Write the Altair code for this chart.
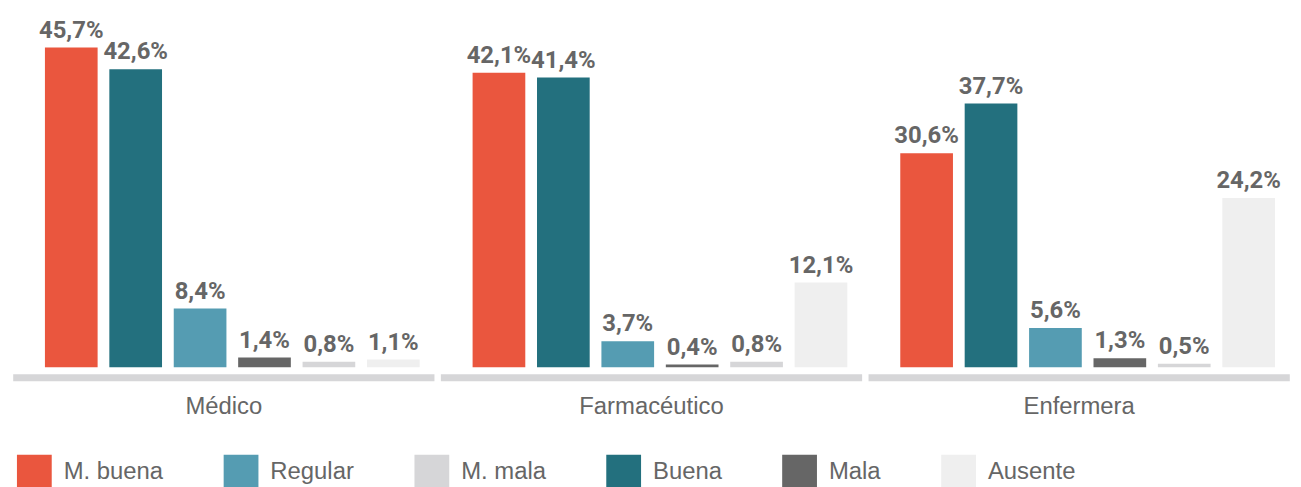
import altair as alt
import pandas as pd

groups = ["Médico", "Farmacéutico", "Enfermera"]
categories = ["M. buena", "Buena", "Regular", "Mala", "M. mala", "Ausente"]
legend_order = ["M. buena", "Regular", "M. mala", "Buena", "Mala", "Ausente"]
colors_by_cat = {
    "M. buena": "#EA563E",
    "Buena": "#23707E",
    "Regular": "#559CB2",
    "Mala": "#666666",
    "M. mala": "#D6D6D8",
    "Ausente": "#EFEFEF",
}
medico = [45.7, 42.6, 8.4, 1.4, 0.8, 1.1]
farmaceutico = [42.1, 41.4, 3.7, 0.4, 0.8, 12.1]
enfermera = [30.6, 37.7, 5.6, 1.3, 0.5, 24.2]

rows = []
for g, vals in zip(groups, [medico, farmaceutico, enfermera]):
    for c, v in zip(categories, vals):
        rows.append({"group": g, "cat": c, "value": v,
                     "label": f"{v:.1f}".replace(".", ",") + "%"})
df = pd.DataFrame(rows)
band_df = pd.DataFrame({"group": groups})

FONT = "Liberation Sans"
GRAY = "#666666"

x_enc = alt.X(
    "group:N", sort=groups, title=None,
    scale=alt.Scale(paddingInner=0, paddingOuter=0),
    axis=alt.Axis(domain=False, ticks=False, labelAngle=0, labelFontSize=24,
                  labelColor=GRAY, labelPadding=28, labelFont=FONT, grid=False),
)
xoff = alt.XOffset("cat:N", sort=categories,
                   scale=alt.Scale(paddingInner=0.182, paddingOuter=0.411,
                                   align=0.66))
y_enc = alt.Y("value:Q", scale=alt.Scale(domain=[0, 50]), axis=None)

band = alt.Chart(band_df).mark_bar(
    width=alt.RelativeBandSize(0.985), color="#D6D6D8"
).encode(x=x_enc, y=alt.value(359), y2=alt.value(366))

bars = alt.Chart(df).mark_bar().encode(
    x=x_enc,
    xOffset=xoff,
    y=y_enc,
    color=alt.Color(
        "cat:N",
        scale=alt.Scale(domain=legend_order,
                        range=[colors_by_cat[c] for c in legend_order]),
        legend=alt.Legend(
            title=None, orient="none", legendX=7, legendY=440,
            direction="horizontal", symbolType="square", symbolSize=1225,
            symbolStrokeWidth=0, symbolOpacity=1, labelFontSize=24,
            labelFont=FONT, labelColor=GRAY, labelOffset=12,
            columnPadding=60, columns=6,
        ),
    ),
)

texts = alt.Chart(df).mark_text(
    baseline="alphabetic", dy=-10, font="Roboto",
    fontWeight="bold", fontSize=24, color=GRAY,
).encode(x=x_enc, xOffset=xoff, y=y_enc, text="label:N")

chart = alt.layer(band, bars, texts).properties(
    width=1291, height=352,
    autosize=alt.AutoSizeParams(type="none"),
    padding={"left": 2, "top": 8, "right": 0, "bottom": 119},
).configure_view(stroke=None)

chart.save("out.html", embed_options={"renderer": "svg", "actions": False})
